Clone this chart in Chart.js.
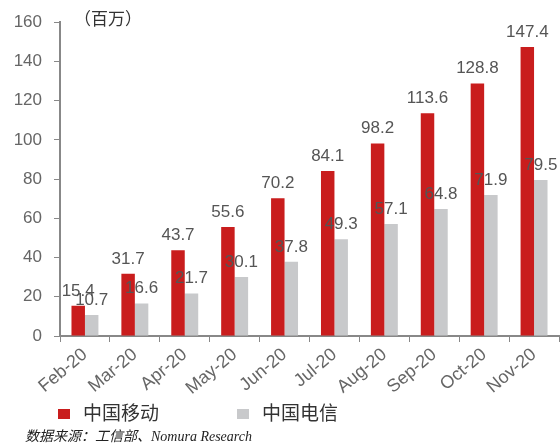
<!DOCTYPE html>
<html>
<head>
<meta charset="utf-8">
<script src="https://cdn.jsdelivr.net/npm/chart.js@4.4.0/dist/chart.umd.min.js"></script>
<style>
  body { margin: 0; background: #fff; width: 560px; height: 448px; overflow: hidden; position: relative; }
  #wrap { position: absolute; left: 0; top: 0; width: 560px; height: 400px; }
  #unit { position: absolute; left: 74px; top: 6px; font: 17px "Noto Sans CJK SC"; color: #333; line-height: 24px; }
  .box { position: absolute; top: 409px; width: 12px; height: 10px; }
  .lbl { position: absolute; top: 399px; font: 19px "Noto Sans CJK SC"; color: #333; line-height: 26px; }
  #source { position: absolute; left: 25px; top: 427px; font: italic 14px "Liberation Serif", "Noto Sans CJK SC"; color: #222; line-height: 20px; }
</style>
</head>
<body>
<div id="wrap"><canvas id="myChart" width="560" height="400"></canvas></div>
<div id="unit">（百万）</div>
<div class="box" style="left:58px;background:#C91D1D"></div>
<div class="lbl" style="left:83px">中国移动</div>
<div class="box" style="left:237px;background:#C8C9CB"></div>
<div class="lbl" style="left:262px">中国电信</div>
<div id="source">数据来源：工信部、Nomura Research</div>
<script>
// 数据
const months = ['Feb-20', 'Mar-20', 'Apr-20', 'May-20', 'Jun-20', 'Jul-20', 'Aug-20', 'Sep-20', 'Oct-20', 'Nov-20'];
const chinaMobile = [15.4, 31.7, 43.7, 55.6, 70.2, 84.1, 98.2, 113.6, 128.8, 147.4];
const chinaTelecom = [10.7, 16.6, 21.7, 30.1, 37.8, 49.3, 57.1, 64.8, 71.9, 79.5];
const yTicks = [0, 20, 40, 60, 80, 100, 120, 140, 160];

// label angka di atas batang
const valueLabels = {
  id: 'valueLabels',
  afterDatasetsDraw(chart) {
    const ctx = chart.ctx;
    ctx.save();
    ctx.font = '17px "Liberation Sans", Arial, sans-serif';
    ctx.fillStyle = '#555';
    ctx.textAlign = 'center';
    ctx.textBaseline = 'alphabetic';
    chart.data.datasets.forEach((ds, i) => {
      chart.getDatasetMeta(i).data.forEach((bar, j) => {
        ctx.fillText(ds.data[j].toFixed(1), bar.x, bar.y - 10);
      });
    });
    ctx.restore();
  }
};

const ctx = document.getElementById('myChart').getContext('2d');
new Chart(ctx, {
  type: 'bar',
  data: {
    labels: months,
    datasets: [
      { label: '中国移动', data: chinaMobile, backgroundColor: '#C91D1D', categoryPercentage: 0.54, barPercentage: 1 },
      { label: '中国电信', data: chinaTelecom, backgroundColor: '#C8C9CB', categoryPercentage: 0.54, barPercentage: 1 }
    ]
  },
  options: {
    responsive: false,
    animation: false,
    layout: { padding: { top: 18, right: 1, left: 0, bottom: 0 } },
    plugins: {
      legend: { display: false },
      tooltip: { enabled: false }
    },
    scales: {
      x: {
        grid: { display: true, drawOnChartArea: false, tickLength: 6, color: '#888', lineWidth: 1 },
        border: { color: '#888', width: 2 },
        ticks: {
          autoSkip: false, minRotation: 40, maxRotation: 40, padding: 2,
          color: '#666', font: { family: '"Liberation Sans", Arial, sans-serif', size: 18 }
        },
        afterFit: s => { s.height = 64; }
      },
      y: {
        min: 0, max: 160,
        afterBuildTicks: s => { s.ticks = yTicks.map(v => ({ value: v })); },
        grid: { display: true, drawOnChartArea: false, tickLength: 6, color: '#888', lineWidth: 1 },
        border: { color: '#888', width: 2 },
        ticks: {
          padding: 12, color: '#666',
          font: { family: '"Liberation Sans", Arial, sans-serif', size: 17 }
        },
        afterFit: s => { s.width = 60; }
      }
    }
  },
  plugins: [valueLabels]
});
</script>
</body>
</html>
